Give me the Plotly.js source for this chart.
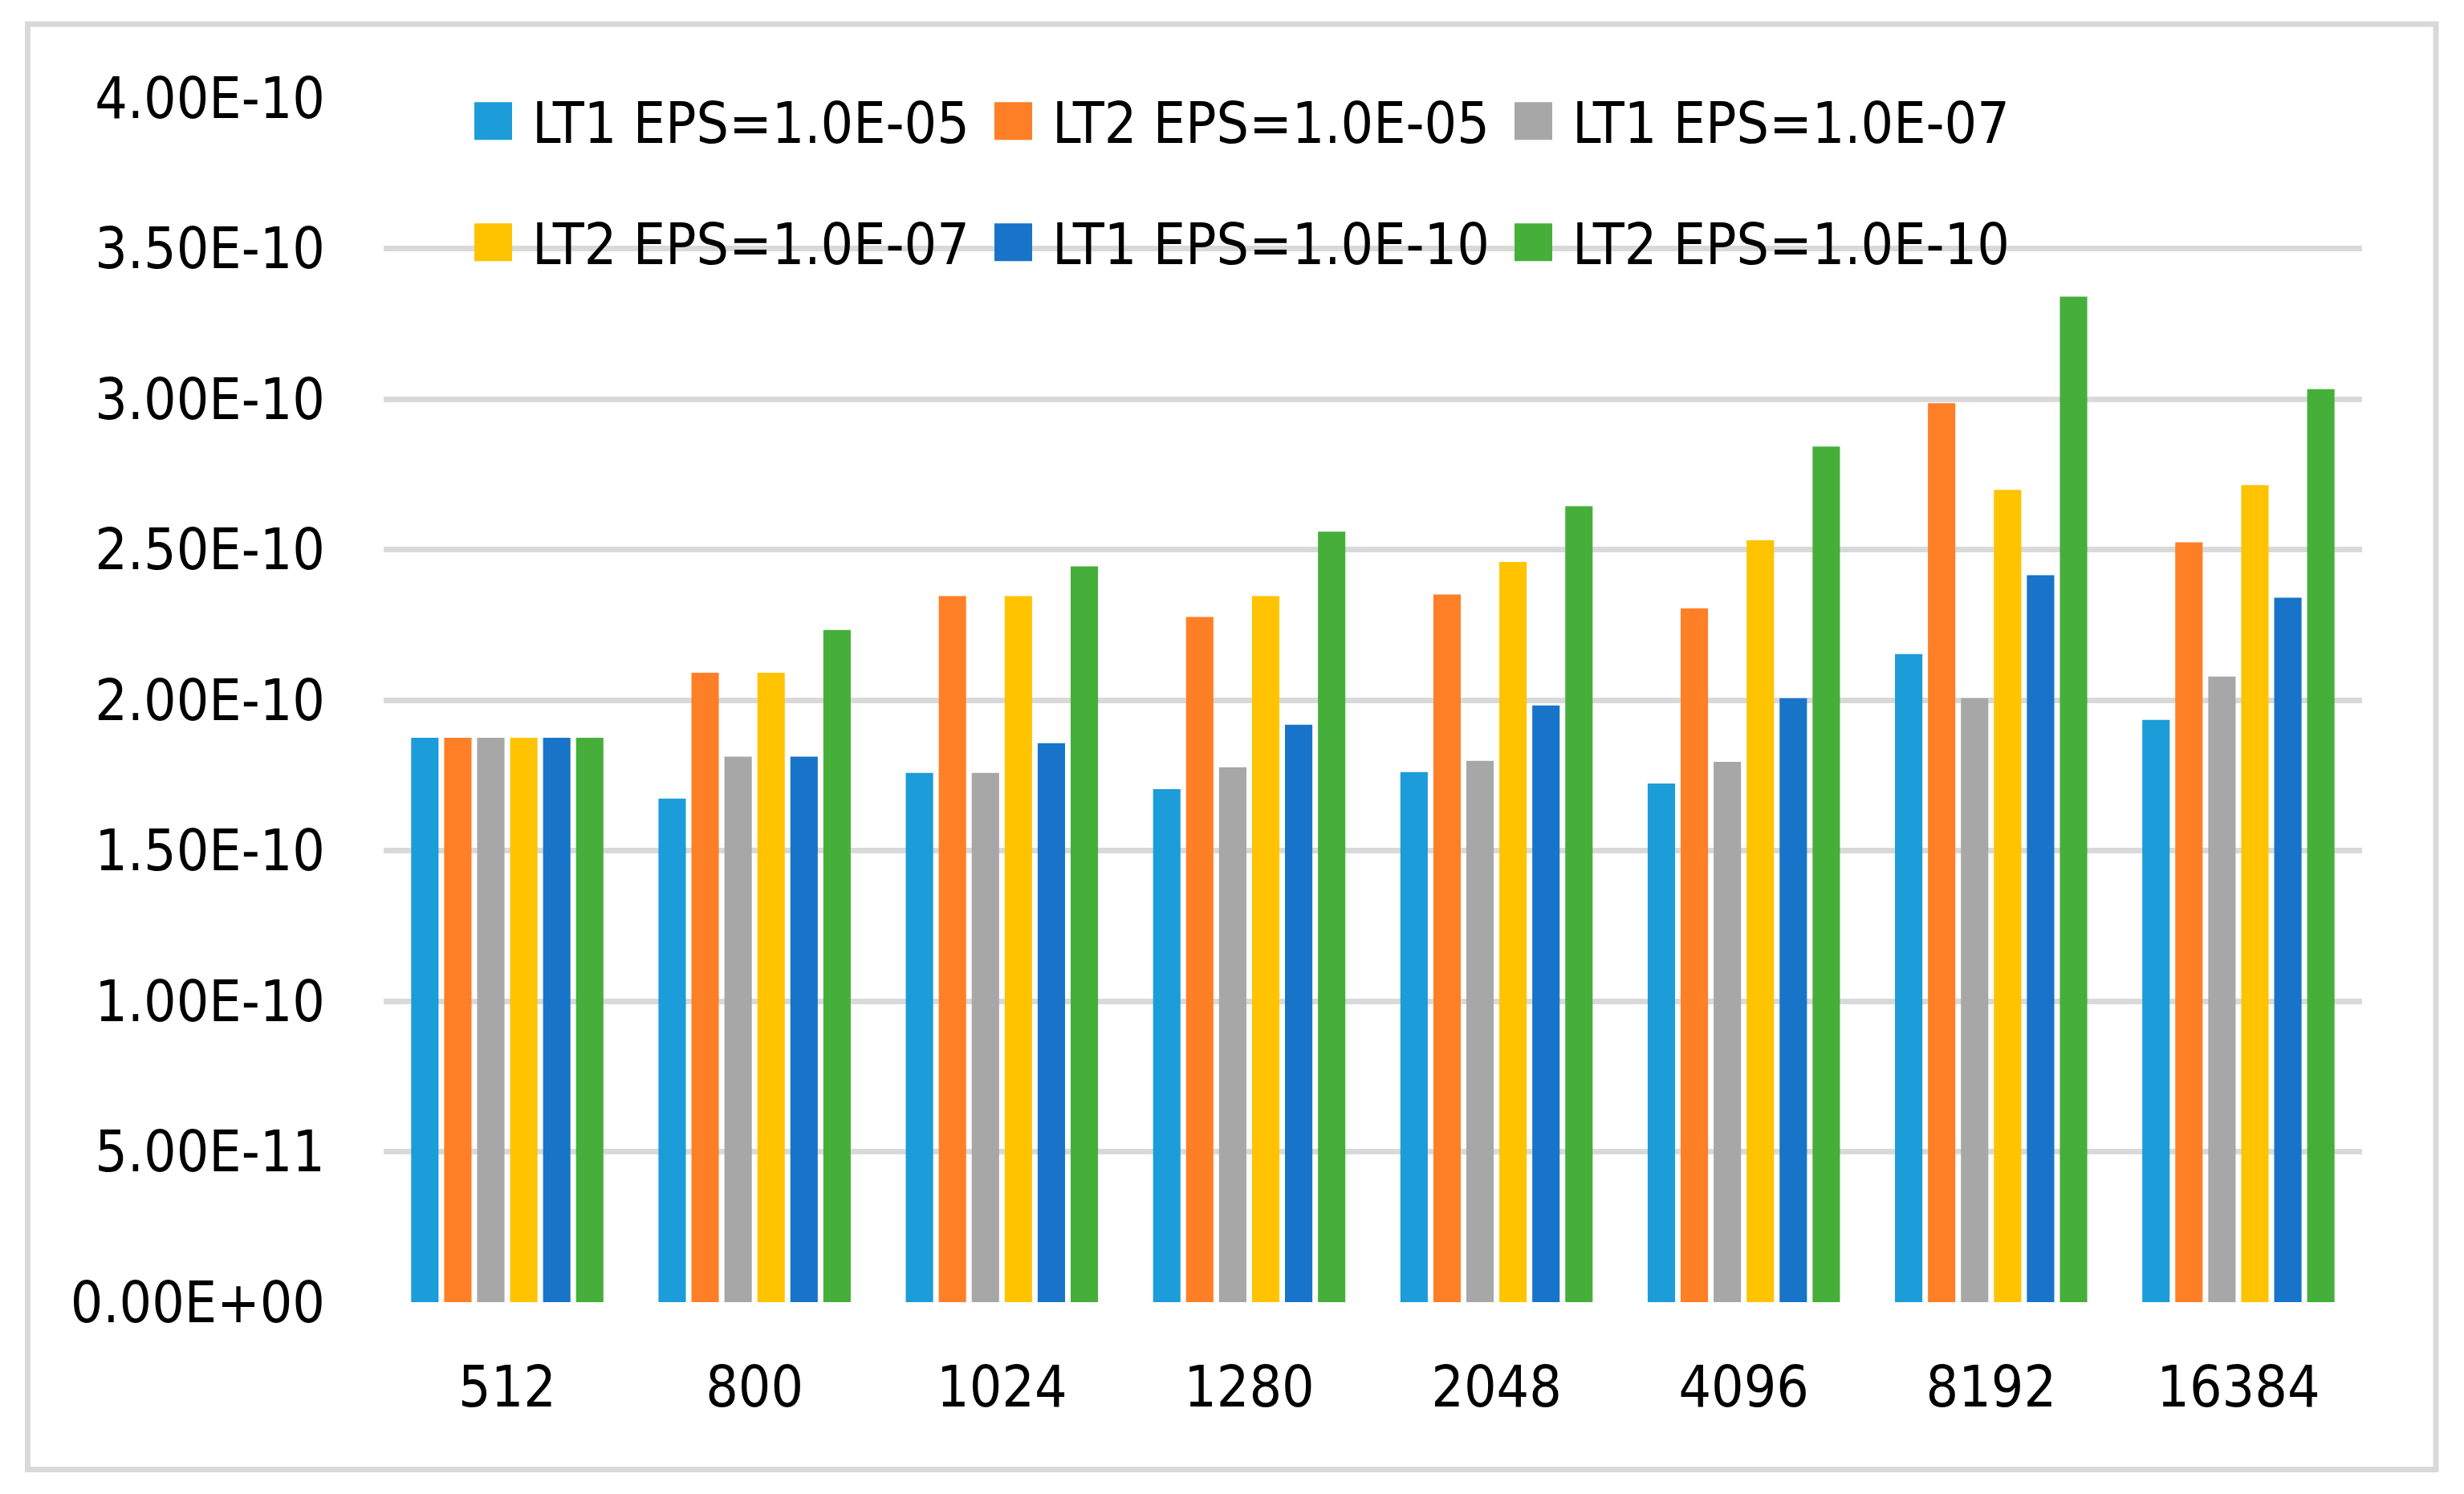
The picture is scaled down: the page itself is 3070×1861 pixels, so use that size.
<!DOCTYPE html>
<html><head><meta charset="utf-8">
<script src="https://cdn.plot.ly/plotly-3.0.1.min.js"></script>
<style>html,body{margin:0;padding:0;background:#fff;} #chart{width:3070px;height:1861px;}</style>
</head><body><div id="chart"></div>
<script>
const categories = ['512', '800', '1024', '1280', '2048', '4096', '8192', '16384'];
const seriesNames = ['LT1 EPS=1.0E-05', 'LT2 EPS=1.0E-05', 'LT1 EPS=1.0E-07',
                     'LT2 EPS=1.0E-07', 'LT1 EPS=1.0E-10', 'LT2 EPS=1.0E-10'];
const lt1_eps05 = [1.875e-10, 1.673e-10, 1.758e-10, 1.704e-10, 1.761e-10, 1.723e-10, 2.153e-10, 1.934e-10];
const lt2_eps05 = [1.875e-10, 2.091e-10, 2.345e-10, 2.276e-10, 2.351e-10, 2.305e-10, 2.986e-10, 2.524e-10];
const lt1_eps07 = [1.875e-10, 1.812e-10, 1.758e-10, 1.777e-10, 1.798e-10, 1.795e-10, 2.006e-10, 2.078e-10];
const lt2_eps07 = [1.875e-10, 2.091e-10, 2.345e-10, 2.345e-10, 2.459e-10, 2.531e-10, 2.698e-10, 2.714e-10];
const lt1_eps10 = [1.875e-10, 1.812e-10, 1.857e-10, 1.918e-10, 1.982e-10, 2.006e-10, 2.415e-10, 2.340e-10];
const lt2_eps10 = [1.875e-10, 2.233e-10, 2.444e-10, 2.559e-10, 2.644e-10, 2.842e-10, 3.340e-10, 3.033e-10];
const yTickVals = [0, 0.5e-10, 1.0e-10, 1.5e-10, 2.0e-10, 2.5e-10, 3.0e-10, 3.5e-10, 4.0e-10];
const yTickText = ['0.00E+00', '5.00E-11', '1.00E-10', '1.50E-10', '2.00E-10', '2.50E-10', '3.00E-10', '3.50E-10', '4.00E-10'];

const seriesValues = [lt1_eps05, lt2_eps05, lt1_eps07, lt2_eps07, lt1_eps10, lt2_eps10];
const colors = ['#1C9CD8', '#FF7F27', '#A7A7A7', '#FFC300', '#1874C8', '#45AF3A'];
const legendIds = ['legend', 'legend', 'legend', 'legend2', 'legend2', 'legend2'];

const FONT = '"DejaVu Sans Condensed", "Liberation Sans Narrow", sans-serif';
const FS = 71;

const data = seriesValues.map((vals, i) => ({
  type: 'bar',
  x: categories,
  y: vals,
  name: seriesNames[i],
  legend: legendIds[i],
  marker: {color: colors[i], line: {width: 0}},
  hoverinfo: 'skip'
}));

const W = 3070, H = 1861;
const L = 478, R = 127, T = 122, B = 239;
const pw = W - L - R, ph = H - T - B;
const px2x = v => (v - L) / pw;
const py2y = v => (H - B - v) / ph;

const legendCommon = {
  orientation: 'h', xanchor: 'left', yanchor: 'middle',
  font: {family: FONT, size: FS, color: '#000'},
  bgcolor: 'rgba(0,0,0,0)', borderwidth: 0,
  itemwidth: 62,
  entrywidth: 571, entrywidthmode: 'pixels',
  traceorder: 'normal'
};

const layout = {
  width: W, height: H,
  margin: {l: L, r: R, t: T, b: B, pad: 0},
  paper_bgcolor: '#fff', plot_bgcolor: '#fff',
  font: {family: FONT, size: FS, color: '#000'},
  barmode: 'group', bargap: 0.20, bargroupgap: 0.17,
  showlegend: true,
  legend: Object.assign({}, legendCommon, {x: px2x(591), y: py2y(151)}),
  legend2: Object.assign({}, legendCommon, {x: px2x(591), y: py2y(302)}),
  xaxis: {
    type: 'category', showgrid: false, showline: false, zeroline: false,
    ticks: '', ticklabelstandoff: 58,
    tickfont: {family: FONT, size: FS, color: '#000'}
  },
  yaxis: {
    range: [0, 4.0e-10], showgrid: true, gridcolor: '#d9d9d9', gridwidth: 7,
    zeroline: false, showline: false, ticks: '',
    tickmode: 'array', tickvals: yTickVals, ticktext: yTickText,
    ticklabelstandoff: 72,
    tickfont: {family: FONT, size: FS, color: '#000'}
  },
  shapes: [{
    type: 'rect', xref: 'paper', yref: 'paper', layer: 'below',
    x0: px2x(34.5), x1: px2x(3035), y0: py2y(1830.5), y1: py2y(30),
    line: {color: '#d9d9d9', width: 7}, fillcolor: 'rgba(0,0,0,0)'
  }]
};

function enlargeLegendSwatches(gd) {
  gd.querySelectorAll('g.traces .legendpoints path').forEach(p => {
    p.setAttribute('d', 'M0,-23.5H47V23.5H0Z');
    p.setAttribute('transform', 'translate(0,0)');
  });
}

Plotly.newPlot('chart', data, layout, {staticPlot: true, displayModeBar: false}).then(gd => {
  enlargeLegendSwatches(gd);
  gd.on('plotly_afterplot', () => enlargeLegendSwatches(gd));
});
</script>
</body></html>
